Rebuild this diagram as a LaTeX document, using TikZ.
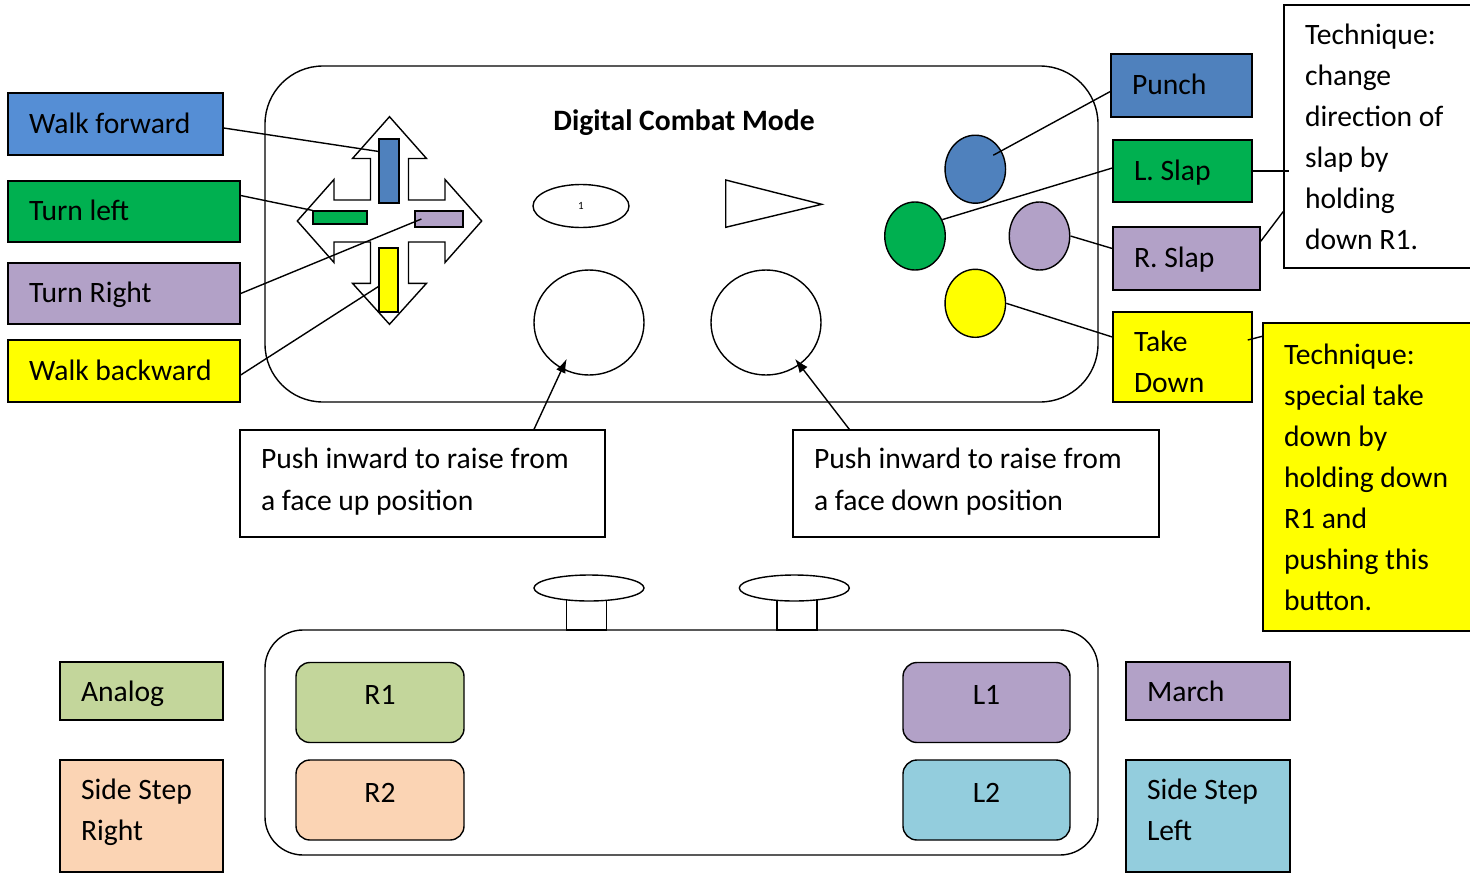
\documentclass[tikz,border=0pt]{standalone}
\usepackage{fontspec}
\setmainfont{Carlito}
\usetikzlibrary{shapes.geometric,arrows.meta,calc}
\definecolor{wfblue}{HTML}{558ED5}
\definecolor{pblue}{HTML}{4F81BD}
\definecolor{cgreen}{HTML}{00B050}
\definecolor{cpurple}{HTML}{B2A1C7}
\definecolor{cyellow}{HTML}{FFFF00}
\definecolor{colive}{HTML}{C3D69B}
\definecolor{cpeach}{HTML}{FBD4B4}
\definecolor{caqua}{HTML}{93CDDD}
\begin{document}
\begin{tikzpicture}[x=1pt,y=-1pt,line width=1.4pt,
 tbox/.style={draw, rectangle, inner sep=0pt},
 mtxt/.style={inner sep=0pt, align=left, anchor=west, font=\fontsize{29.6}{41}\selectfont},
 txt/.style={mtxt, text height=21pt, text depth=3pt},
 bar/.style={draw, rectangle, inner sep=0pt, line width=1.2pt},
 btn/.style={draw, ellipse, inner sep=0pt, minimum width=60.5pt, minimum height=68pt},
 rbtn/.style={draw, rectangle, rounded corners=14pt, inner sep=0pt, minimum width=168pt, minimum height=80pt, font=\fontsize{29.6}{41}\selectfont, text height=20pt, text depth=16pt},
 arr/.style={-{Latex[length=14pt,width=10pt]}}]
\useasboundingbox (0,0) rectangle (1470,873);
\clip (0,0) rectangle (1470,873);

% upper body
\node[draw, rectangle, rounded corners=58pt, minimum width=833pt, minimum height=336pt] (upper) at (681.5,234) {};
\node[inner sep=0pt, font=\fontsize{29.6}{35}\selectfont\bfseries] (title) at (684,122.5) {Digital Combat Mode};

% d-pad
\draw[fill=white] (389.5,116.7) -- (426.5,158.5) -- (408.5,158.5) -- (408.5,200) -- (445,200) -- (445,179.5) -- (481.7,221) -- (445,262.5) -- (445,242) -- (408.5,242) -- (408.5,283.3) -- (426.5,283.3) -- (389.5,324.3) -- (352.5,283.3) -- (370.5,283.3) -- (370.5,242) -- (334,242) -- (334,262.5) -- (297.3,221) -- (334,179.5) -- (334,200) -- (370.5,200) -- (370.5,158.5) -- (352.5,158.5) -- cycle;
\node[bar, fill=pblue, minimum width=20pt, minimum height=64pt] (bf) at (389,171) {};
\node[bar, fill=cgreen, minimum width=54pt, minimum height=13pt] (bg) at (340,217.5) {};
\node[bar, fill=cpurple, minimum width=48pt, minimum height=16pt] (bp) at (439,219) {};
\node[bar, fill=cyellow, minimum width=19pt, minimum height=64pt] (by) at (388.5,280) {};

% select / start
\node[draw, ellipse, inner sep=0pt, minimum width=96pt, minimum height=43pt, font=\fontsize{11}{12}\selectfont] (sel) at (581,206) {1};
\draw (725.7,180) -- (725.7,227.3) -- (821.7,204.3) -- cycle;

% sticks
\node[draw, ellipse, inner sep=0pt, minimum width=110pt, minimum height=105pt] (lc) at (589,322.5) {};
\node[draw, ellipse, inner sep=0pt, minimum width=110pt, minimum height=105pt] (rc) at (766,322.5) {};

% face buttons
\node[btn, fill=pblue] (cb) at (975.3,169.2) {};
\node[btn, fill=cgreen] (cg) at (915,236) {};
\node[btn, fill=cpurple] (cp) at (1039.5,236) {};
\node[btn, fill=cyellow] (cy) at (975.3,303.3) {};

% left labels
\node[tbox, fill=wfblue, minimum width=215pt, minimum height=62pt] (wf) at (115.5,124) {};
\node[txt] (wft) at ([xshift=21pt]wf.west) {Walk forward};
\node[tbox, fill=cgreen, minimum width=232pt, minimum height=61pt] (tl) at (124,211.5) {};
\node[txt] (tlt) at ([xshift=21pt]tl.west) {Turn left};
\node[tbox, fill=cpurple, minimum width=232pt, minimum height=61pt] (tr) at (124,293.5) {};
\node[txt] (trt) at ([xshift=21pt]tr.west) {Turn Right};
\node[tbox, fill=cyellow, minimum width=232pt, minimum height=62pt] (wb) at (124,371) {};
\node[txt] (wbt) at ([xshift=21pt]wb.west) {Walk backward};

% right labels
\node[tbox, fill=pblue, minimum width=141pt, minimum height=63pt] (pu) at (1181.5,85.5) {};
\node[txt] (put) at ([xshift=21pt]pu.west) {Punch};
\node[tbox, fill=cgreen, minimum width=139pt, minimum height=62pt] (ls) at (1182.5,171) {};
\node[txt] (lst) at ([xshift=21pt]ls.west) {L. Slap};
\node[tbox, fill=cpurple, minimum width=147pt, minimum height=63pt] (rs) at (1186.5,258.5) {};
\node[txt] (rst) at ([xshift=21pt]rs.west) {R. Slap};
\node[tbox, fill=cyellow, minimum width=139pt, minimum height=90pt] (td) at (1182.5,357) {};
\node[mtxt] (tdt) at ([xshift=21pt,yshift=-4.5pt]td.west) {Take\\Down};

% technique notes
\node[tbox, fill=white, minimum width=196pt, minimum height=263pt] (t1) at (1382,136.5) {};
\node[mtxt] (t1t) at ([xshift=21pt]t1.west) {Technique:\\change\\direction of\\slap by\\holding\\down R1.};
\node[tbox, fill=cyellow, minimum width=217pt, minimum height=308pt] (t2) at (1371.5,477) {};
\node[mtxt] (t2t) at ([xshift=21pt]t2.west) {Technique:\\special take\\down by\\holding down\\R1 and\\pushing this\\button.};

% push notes
\node[tbox, minimum width=365pt, minimum height=107pt] (pb1) at (422.5,483.5) {};
\node[mtxt, font=\fontsize{29.6}{42}\selectfont] (pb1t) at ([xshift=21pt,yshift=1.5pt]pb1.west) {Push inward to raise from\\a face up position};
\node[tbox, minimum width=366pt, minimum height=107pt] (pb2) at (976,483.5) {};
\node[mtxt, font=\fontsize{29.6}{42}\selectfont] (pb2t) at ([xshift=21pt,yshift=1.5pt]pb2.west) {Push inward to raise from\\a face down position};

% lower body
\node[draw, rectangle, rounded corners=38pt, minimum width=833pt, minimum height=225pt] (lower) at (681.5,742.5) {};
\node[draw, fill=white, rectangle, inner sep=0pt, minimum width=40pt, minimum height=34pt] (s1r) at (586.7,613) {};
\node[draw, fill=white, ellipse, inner sep=0pt, minimum width=110pt, minimum height=26pt] (s1e) at (589,588) {};
\node[draw, fill=white, rectangle, inner sep=0pt, minimum width=40pt, minimum height=34pt] (s2r) at (797,613) {};
\node[draw, fill=white, ellipse, inner sep=0pt, minimum width=110pt, minimum height=26pt] (s2e) at (794.3,588) {};

\node[rbtn, fill=colive] (r1) at (380,702.5) {R1};
\node[rbtn, fill=cpeach] (r2) at (380,800) {R2};
\node[rbtn, fill=cpurple, minimum width=167pt] (l1) at (986.5,702.5) {L1};
\node[rbtn, fill=caqua, minimum width=167pt] (l2) at (986.5,800) {L2};

% bottom labels
\node[tbox, fill=colive, minimum width=163pt, minimum height=58pt] (an) at (141.5,691) {};
\node[txt] (ant) at ([xshift=21pt,yshift=-1pt]an.west) {Analog};
\node[tbox, fill=cpeach, minimum width=163pt, minimum height=112pt] (ssr) at (141.5,816) {};
\node[mtxt] (ssrt) at ([xshift=21pt,yshift=3.5pt]ssr.west) {Side Step\\Right};
\node[tbox, fill=cpurple, minimum width=164pt, minimum height=58pt] (ma) at (1208,691) {};
\node[txt] (mat) at ([xshift=21pt,yshift=-1pt]ma.west) {March};
\node[tbox, fill=caqua, minimum width=164pt, minimum height=112pt] (ssl) at (1208,816) {};
\node[mtxt] (sslt) at ([xshift=21pt,yshift=6pt]ssl.west) {Side Step\\Left};

% connectors left
\draw ([yshift=-4pt]wf.east) -- ($(bf.north west)!0.2!(bf.south west)$);
\draw ([yshift=16pt]tl.east) -- (bg.north west);
\draw (tr.east) -- ([xshift=7pt]bp.west);
\draw ([yshift=-4pt]wb.east) -- ($(by.north west)!0.6!(by.south west)$);

% connectors right
\draw ($(cb.center)+(18,-14)$) -- ([yshift=-6pt]pu.west);
\draw (cg.31) -- ([yshift=3pt]ls.west);
\draw (cp.east) -- ([yshift=10pt]rs.west);
\draw (cy.east) -- ([yshift=20pt]td.west);
\draw (ls.east) -- ([xshift=6pt]ls.east -| t1.west);
\draw ([yshift=-15pt]rs.north east) -- ([yshift=-75pt]t1.west);
\draw ([xshift=-5pt,yshift=17pt]td.east) -- ([yshift=-14pt]t2.north west);

% arrows
\draw[arr] ([xshift=111.5pt]pb1.north) -- ($(lc.center)+(-22.3,36.3)$);
\draw[arr] ([xshift=-126.7pt]pb2.north) -- ($(rc.center)+(29,36.3)$);
\end{tikzpicture}
\end{document}
